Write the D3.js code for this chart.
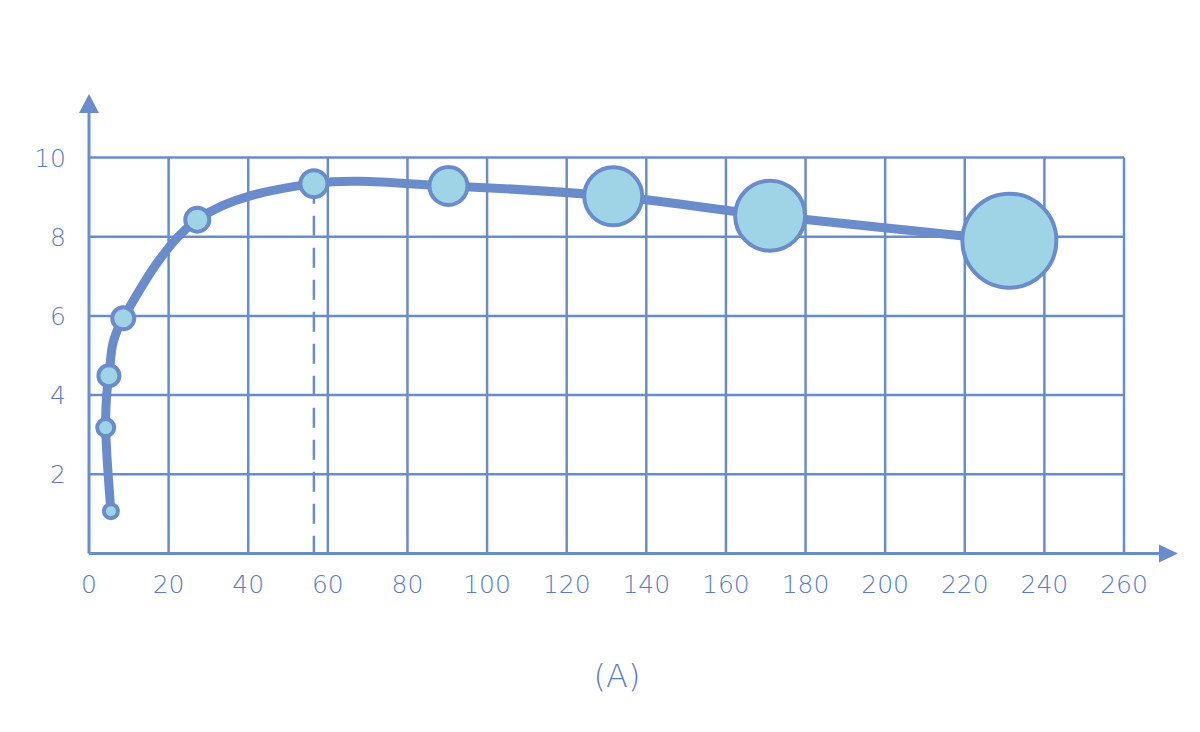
<!DOCTYPE html>
<html>
<head>
<meta charset="utf-8">
<script src="https://cdn.jsdelivr.net/npm/d3@7"></script>
<style>
  body { margin: 0; background: #fff; }
  text { font-family: "DejaVu Sans", sans-serif; font-weight: 200; fill: #5b7cc4; }
</style>
</head>
<body>
<div id="chart"></div>
<script>
// data
var xVals = [5.5, 4.2, 5.0, 8.6, 27.2, 56.5, 90.3, 131.7, 171.1, 231.2];
var yVals = [1.07, 3.18, 4.49, 5.94, 8.43, 9.34, 9.28, 9.02, 8.53, 7.9];
var sizes = [7, 8.5, 10.5, 11, 12, 13.5, 19, 29, 35, 47];
var xTicks = [0, 20, 40, 60, 80, 100, 120, 140, 160, 180, 200, 220, 240, 260];
var yTicks = [2, 4, 6, 8, 10];
var peakX = 56.5;
var caption = "(A)";

var W = 1200, H = 732;
var lineColor = "#6b8ccb";

var svg = d3.select("#chart").append("svg")
    .attr("width", W)
    .attr("height", H);

var x = d3.scaleLinear().domain([0, 260]).range([89, 1124]);
var y = d3.scaleLinear().domain([0, 10]).range([553.5, 157.5]);

// grid
var grid = svg.append("g").attr("stroke", lineColor).attr("stroke-width", 2.5);
grid.selectAll("line.v")
  .data(xTicks.filter(function(d) { return d > 0; }))
  .enter().append("line")
    .attr("x1", function(d) { return x(d); })
    .attr("x2", function(d) { return x(d); })
    .attr("y1", y(0))
    .attr("y2", y(10));
grid.selectAll("line.h")
  .data(yTicks)
  .enter().append("line")
    .attr("x1", x(0))
    .attr("x2", x(260))
    .attr("y1", function(d) { return y(d); })
    .attr("y2", function(d) { return y(d); });

// axes with arrows
svg.append("line")
  .attr("x1", x(0)).attr("x2", 1165)
  .attr("y1", y(0)).attr("y2", y(0))
  .attr("stroke", lineColor).attr("stroke-width", 3);
svg.append("line")
  .attr("x1", x(0)).attr("x2", x(0))
  .attr("y1", y(0)).attr("y2", 108)
  .attr("stroke", lineColor).attr("stroke-width", 3);
svg.append("path")
  .attr("d", "M1178," + y(0) + "L1159," + (y(0) - 9) + "L1159," + (y(0) + 9) + "Z")
  .attr("fill", lineColor);
svg.append("path")
  .attr("d", "M" + x(0) + ",94L" + (x(0) - 10) + ",113L" + (x(0) + 10) + ",113Z")
  .attr("fill", lineColor);

// tick labels
svg.selectAll("text.xt")
  .data(xTicks)
  .enter().append("text")
    .attr("x", function(d) { return x(d); })
    .attr("y", 593)
    .attr("text-anchor", "middle")
    .attr("font-size", 25)
    .text(function(d) { return d; });
svg.selectAll("text.yt")
  .data(yTicks)
  .enter().append("text")
    .attr("x", 66)
    .attr("y", function(d) { return y(d) + 9; })
    .attr("text-anchor", "end")
    .attr("font-size", 25)
    .text(function(d) { return d; });

// dashed marker at the peak
svg.append("line")
  .attr("x1", x(peakX)).attr("x2", x(peakX))
  .attr("y1", y(yVals[5])).attr("y2", y(0))
  .attr("stroke", lineColor).attr("stroke-width", 2.5)
  .attr("stroke-dasharray", "20,12");

// curve
var pts = xVals.map(function(d, i) { return [d, yVals[i]]; });
var line = d3.line()
  .x(function(d) { return x(d[0]); })
  .y(function(d) { return y(d[1]); })
  .curve(d3.curveCatmullRom.alpha(0));
svg.append("path")
  .datum(pts)
  .attr("d", line)
  .attr("fill", "none")
  .attr("stroke", lineColor)
  .attr("stroke-width", 9)
  .attr("stroke-linecap", "round");

// bubbles
svg.selectAll("circle")
  .data(pts)
  .enter().append("circle")
    .attr("cx", function(d) { return x(d[0]); })
    .attr("cy", function(d) { return y(d[1]); })
    .attr("r", function(d, i) { return sizes[i]; })
    .attr("fill", "#9fd3e6")
    .attr("stroke", lineColor)
    .attr("stroke-width", 4);

svg.append("text")
  .attr("x", 617)
  .attr("y", 687)
  .attr("text-anchor", "middle")
  .attr("font-size", 32)
  .text(caption);
</script>
</body>
</html>
